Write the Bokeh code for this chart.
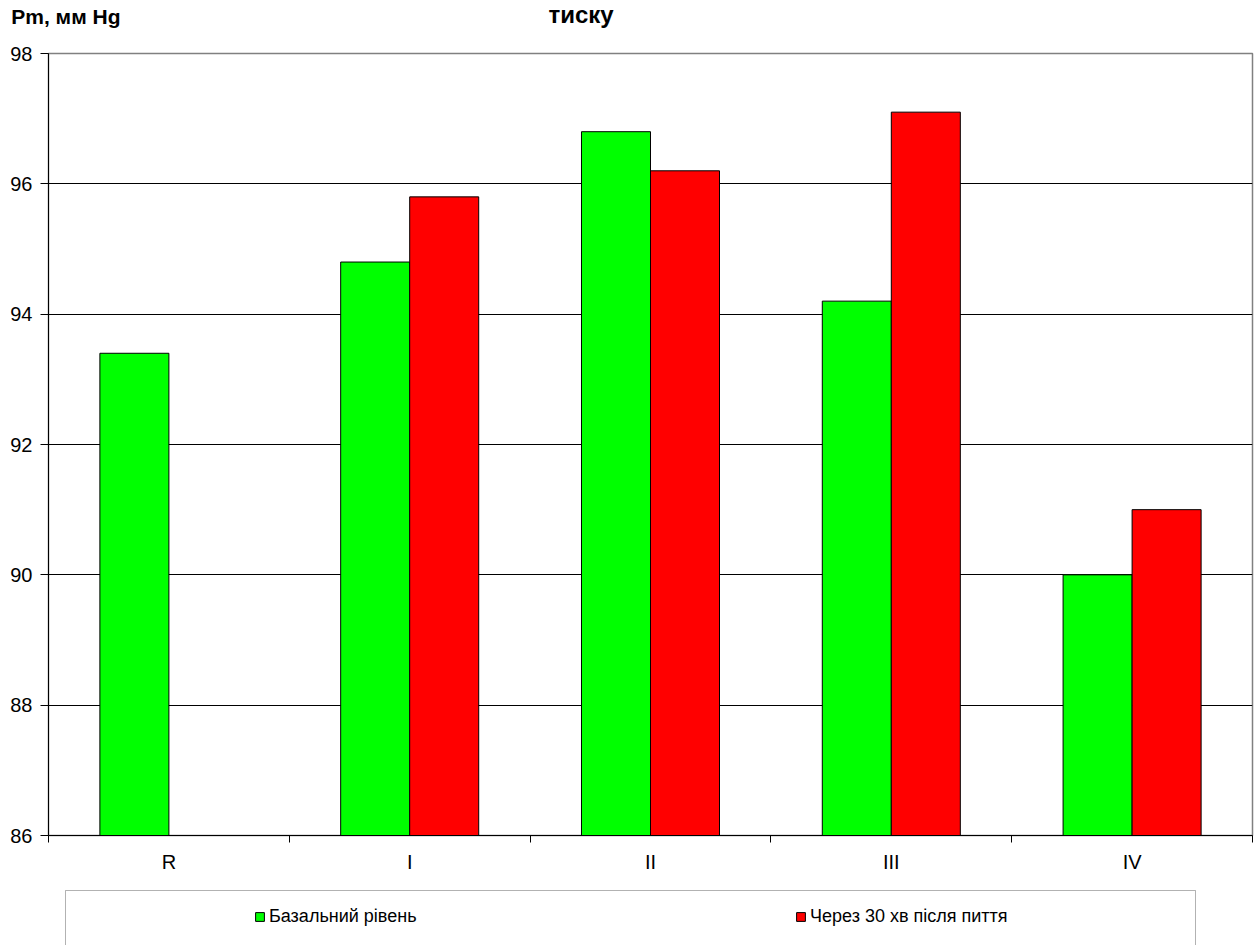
from bokeh.plotting import figure
from bokeh.layouts import column
from bokeh.models import (Range1d, LinearAxis, FixedTicker, ColumnDataSource, Legend,
                          LegendItem, Label, BoxAnnotation)
from bokeh.transform import dodge
from bokeh.embed import file_html
from bokeh.resources import INLINE

categories = ["R", "I", "II", "III", "IV"]
baseline = [93.4, 94.8, 96.8, 94.2, 90.0]
after30 = [float("nan"), 95.8, 96.2, 97.1, 91.0]
y_ticks = [86, 88, 90, 92, 94, 96, 98]
series_names = ["Базальний рівень", "Через 30 хв після пиття"]
title_text = "тиску"
y_label = "Pm, мм Hg"

FONT = "Liberation Sans"
GREEN = "#00FF00"
RED = "#FF0000"
W = 1255


def bare(height):
    f = figure(width=W, height=height, x_range=Range1d(0, W), y_range=Range1d(0, height),
               output_backend="svg", toolbar_location=None,
               x_axis_location=None, y_axis_location=None,
               min_border_left=0, min_border_right=0, min_border_top=0, min_border_bottom=0)
    f.outline_line_color = None
    f.xgrid.visible = False
    f.ygrid.visible = False
    f.background_fill_color = "white"
    f.border_fill_color = "white"
    return f


# ---------- header (y-axis caption + title) ----------
HEAD_H = 30
head = bare(HEAD_H)
cap_axis = LinearAxis(ticker=FixedTicker(ticks=[9]), major_label_overrides={9: y_label},
                      axis_line_color=None, major_tick_line_color=None,
                      minor_tick_line_color=None, major_tick_out=0, major_tick_in=0,
                      major_label_standoff=-72, major_label_text_font=FONT,
                      major_label_text_font_style="bold", major_label_text_font_size="21px",
                      major_label_text_color="black")
head.add_layout(cap_axis, "left")
head.add_layout(Label(x=500, y=3, x_units="screen", y_units="screen", text=title_text,
                      text_font=FONT, text_font_style="bold", text_font_size="24px",
                      text_color="black"))

# ---------- main chart ----------
n = len(categories)
centers = [i + 0.5 for i in range(n)]
src = ColumnDataSource(dict(x=centers, base=baseline, after=after30))

p = figure(x_range=Range1d(0, n), y_range=Range1d(y_ticks[0], y_ticks[-1]),
           width=W, height=855, output_backend="svg", toolbar_location=None,
           x_axis_location=None, y_axis_location="left",
           min_border_left=48, min_border_right=3, min_border_top=23, min_border_bottom=50)
p.background_fill_color = "white"
p.border_fill_color = "white"
p.outline_line_color = "#808080"
p.outline_line_width = 1.5

ya = p.yaxis[0]
ya.ticker = FixedTicker(ticks=y_ticks)
ya.major_tick_out = 8
ya.major_tick_in = 0
ya.minor_tick_line_color = None
ya.axis_line_color = "black"
ya.major_tick_line_color = "black"
ya.major_label_text_font = FONT
ya.major_label_text_font_size = "20px"
ya.major_label_text_color = "black"
ya.major_label_standoff = 8

p.ygrid.ticker = FixedTicker(ticks=y_ticks)
p.ygrid.grid_line_color = "black"
p.ygrid.grid_line_width = 1
p.xgrid.visible = False

edge_axis = LinearAxis(ticker=FixedTicker(ticks=list(range(n + 1))),
                       major_tick_out=7, major_tick_in=0, minor_tick_line_color=None,
                       axis_line_color="black", major_tick_line_color="black",
                       major_label_text_font_size="0px", major_label_text_color=None,
                       major_label_standoff=0)
p.add_layout(edge_axis, "below")
cat_axis = LinearAxis(ticker=FixedTicker(ticks=centers),
                      major_label_overrides={c: lab for c, lab in zip(centers, categories)},
                      major_tick_line_color=None, minor_tick_line_color=None,
                      axis_line_color=None,
                      major_label_text_font=FONT, major_label_text_font_size="20px",
                      major_label_text_color="black", major_label_standoff=2)
p.add_layout(cat_axis, "below")

g = p.vbar(x=dodge("x", -0.1433), top="base", bottom=y_ticks[0],
           width=0.2866, source=src, fill_color=GREEN, line_color="black", line_width=1)
r = p.vbar(x=dodge("x", 0.1433), top="after", bottom=y_ticks[0],
           width=0.2866, source=src, fill_color=RED, line_color="black", line_width=1)

# ---------- legend strip ----------
leg = bare(60)
lg = leg.vbar(x="x", top="base", bottom=y_ticks[0], width=0.2866, source=src,
              fill_color=GREEN, line_color="black", line_width=1, visible=False)
lr = leg.vbar(x="x", top="after", bottom=y_ticks[0], width=0.2866, source=src,
              fill_color=RED, line_color="black", line_width=1, visible=False)
legend = Legend(items=[LegendItem(label=series_names[0], renderers=[lg]),
                       LegendItem(label=series_names[1], renderers=[lr])],
                location=(206, 18), orientation="horizontal",
                border_line_color=None, background_fill_alpha=0,
                inactive_fill_alpha=0, click_policy="none",
                padding=0, margin=0, spacing=276, glyph_width=11, glyph_height=11,
                label_standoff=4, label_width=250, label_height=20,
                label_text_font=FONT, label_text_font_size="18px", label_text_color="black")
leg.add_layout(legend)
box = BoxAnnotation(left=65, right=1195, top=5, bottom=200,
                    left_units="canvas", right_units="canvas",
                    top_units="canvas", bottom_units="canvas",
                    fill_alpha=0, line_color="black", line_width=1)
leg.add_layout(box)

layout = column(head, p, leg, spacing=0)
open("out.html", "w").write(file_html(layout, INLINE))
